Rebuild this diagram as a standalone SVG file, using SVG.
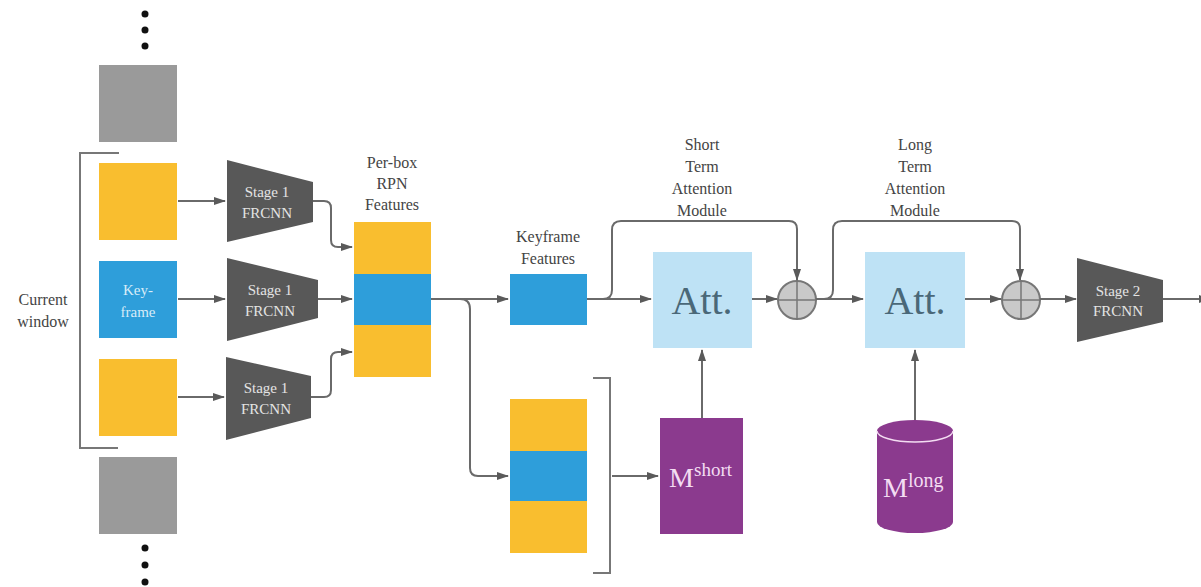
<svg xmlns="http://www.w3.org/2000/svg" width="1201" height="587" viewBox="0 0 1201 587" font-family="Liberation Serif, serif">
<defs>
<marker id="ah" markerWidth="12" markerHeight="10" refX="11" refY="5" orient="auto" markerUnits="userSpaceOnUse">
<path d="M0,1 L12,5 L0,9 Z" fill="#5a5a5a"/>
</marker>
<style>
.lbl{font-size:16px;fill:#444;text-anchor:middle}
.wt{font-size:15px;fill:#e4e4e4;text-anchor:middle}
.con{fill:none;stroke:#6a6a6a;stroke-width:2}
.arr{fill:none;stroke:#6a6a6a;stroke-width:2;marker-end:url(#ah)}
.yel{fill:#F9BE2F}
.blu{fill:#2E9EDA}
.gry{fill:#9A9A9A}
.trap{fill:#585858}
.att{fill:#BEE2F5}
.attt{font-size:40px;fill:#4a6878;text-anchor:middle}
.pur{fill:#8B3A8E}
.mt{fill:#f3dcf2}
.sum{fill:#c9c9c9;stroke:#777;stroke-width:2}
.brk{fill:none;stroke:#777;stroke-width:2}
</style>
</defs>
<rect width="1201" height="587" fill="#fff"/>

<g id="dots-top" fill="#111"><circle cx="145" cy="14" r="3.5"/><circle cx="145" cy="30" r="3.5"/><circle cx="145" cy="46" r="3.5"/></g>
<g id="dots-bottom" fill="#111"><circle cx="145" cy="548" r="3.5"/><circle cx="145" cy="565" r="3.5"/><circle cx="145" cy="582" r="3.5"/></g>

<g id="frame-prev"><rect class="gry" x="99" y="65" width="78" height="77"/></g>
<g id="current-window" font-family="Liberation Serif, serif">
<path class="brk" d="M119,153 H80 V448 H118"/>
<text class="lbl" x="43" y="305">Current</text>
<text class="lbl" x="43" y="327">window</text>
</g>
<g id="frame-1"><rect class="yel" x="99" y="163" width="78" height="77"/></g>
<g id="keyframe" font-family="Liberation Serif, serif"><rect class="blu" x="99" y="261" width="78" height="77"/>
<text class="wt" x="138" y="295" fill="#d8ecf8" style="fill:#d8ecf8">Key-</text><text class="wt" x="138" y="317" style="fill:#d8ecf8">frame</text></g>
<g id="frame-3"><rect class="yel" x="99" y="359" width="78" height="77"/></g>
<g id="frame-next"><rect class="gry" x="99" y="457" width="78" height="77"/></g>

<g id="stage1-a" font-family="Liberation Serif, serif"><path class="trap" d="M227,160 L313,182 L313,222 L227,242 Z"/>
<text class="wt" x="267" y="197">Stage 1</text><text class="wt" x="267" y="218">FRCNN</text></g>
<g id="stage1-b" font-family="Liberation Serif, serif"><path class="trap" d="M227,258 L318,280 L318,318 L227,341 Z"/>
<text class="wt" x="270" y="295">Stage 1</text><text class="wt" x="270" y="316">FRCNN</text></g>
<g id="stage1-c" font-family="Liberation Serif, serif"><path class="trap" d="M226,357 L311,376 L311,418 L226,440 Z"/>
<text class="wt" x="266" y="393">Stage 1</text><text class="wt" x="266" y="414">FRCNN</text></g>

<g id="rpn-features" font-family="Liberation Serif, serif">
<text class="lbl" x="392" y="168">Per-box</text><text class="lbl" x="392" y="189">RPN</text><text class="lbl" x="392" y="210">Features</text>
<rect class="yel" x="354" y="222" width="77" height="52"/>
<rect class="blu" x="354" y="274" width="77" height="51"/>
<rect class="yel" x="354" y="325" width="77" height="52"/>
</g>

<g id="keyframe-features" font-family="Liberation Serif, serif">
<text class="lbl" x="548" y="242">Keyframe</text><text class="lbl" x="548" y="264">Features</text>
<rect class="blu" x="510" y="274" width="77" height="51"/>
</g>

<g id="short-stack">
<rect class="yel" x="510" y="399" width="77" height="52"/>
<rect class="blu" x="510" y="451" width="77" height="50"/>
<rect class="yel" x="510" y="501" width="77" height="52"/>
<path class="brk" d="M593,378 H610 V573 H593"/>
</g>

<g id="att-short" font-family="Liberation Serif, serif">
<text class="lbl" x="702" y="150">Short</text><text class="lbl" x="702" y="172">Term</text><text class="lbl" x="702" y="194">Attention</text><text class="lbl" x="702" y="216">Module</text>
<rect class="att" x="653" y="252" width="99" height="96"/>
<text class="attt" x="702" y="314">Att.</text>
</g>
<g id="sum-1"><circle class="sum" cx="797" cy="300" r="19"/><path d="M778,300 H816 M797,281 V319" stroke="#777" stroke-width="1.5"/></g>

<g id="att-long" font-family="Liberation Serif, serif">
<text class="lbl" x="915" y="150">Long</text><text class="lbl" x="915" y="172">Term</text><text class="lbl" x="915" y="194">Attention</text><text class="lbl" x="915" y="216">Module</text>
<rect class="att" x="865" y="252" width="100" height="96"/>
<text class="attt" x="915" y="314">Att.</text>
</g>
<g id="sum-2"><circle class="sum" cx="1021" cy="300" r="19"/><path d="M1002,300 H1040 M1021,281 V319" stroke="#777" stroke-width="1.5"/></g>

<g id="stage2" font-family="Liberation Serif, serif"><path class="trap" d="M1077,258 L1163,280 L1163,322 L1077,342 Z"/>
<text class="wt" x="1118" y="296">Stage 2</text><text class="wt" x="1118" y="316">FRCNN</text></g>

<g id="m-short" font-family="Liberation Serif, serif"><rect class="pur" x="660" y="418" width="83" height="116"/>
<text class="mt" x="669" y="487" font-size="28">M</text><text class="mt" x="694" y="476" font-size="19">short</text></g>

<g id="m-long" font-family="Liberation Serif, serif">
<path class="pur" d="M877,431 A38,11 0 0 1 953,431 V522 A38,11 0 0 1 877,522 Z"/>
<path d="M877,431 A38,11 0 0 0 953,431" fill="none" stroke="#f3dcf2" stroke-width="1.5"/>
<text class="mt" x="883" y="497" font-size="28">M</text><text class="mt" x="908" y="487" font-size="20">long</text>
</g>

<g id="connectors">
<path class="arr" d="M178,201 H225"/>
<path class="arr" d="M178,299 H225"/>
<path class="arr" d="M178,397 H224"/>
<path class="arr" d="M313,201 H324 Q331,201 331,208 V240 Q331,247 338,247 H352"/>
<path class="arr" d="M318,299 H352"/>
<path class="arr" d="M311,397 H324 Q331,397 331,390 V359 Q331,352 338,352 H352"/>
<path class="arr" d="M431,299 H508"/>
<path class="arr" d="M460,299 Q470,299 470,309 V468 Q470,476 478,476 H508"/>
<path class="arr" d="M612,476 H658"/>
<path class="arr" d="M587,299 H651"/>
<path class="con" d="M603,299 Q612,299 612,290 V230 Q612,221 621,221 H789 Q797,221 797,229 V279"/>
<path class="arr" d="M797,229 V280"/>
<path class="arr" d="M752,299 H777"/>
<path class="arr" d="M816,299 H863"/>
<path class="con" d="M824,299 Q833,299 833,290 V230 Q833,221 842,221 H1012 Q1020,221 1020,229 V279"/>
<path class="arr" d="M1020,229 V280"/>
<path class="arr" d="M965,299 H1001"/>
<path class="arr" d="M1040,299 H1076"/>
<path class="arr" d="M1163,299 H1210"/>
<path class="arr" d="M702,418 V350"/>
<path class="arr" d="M915,420 V350"/>
</g>
</svg>
